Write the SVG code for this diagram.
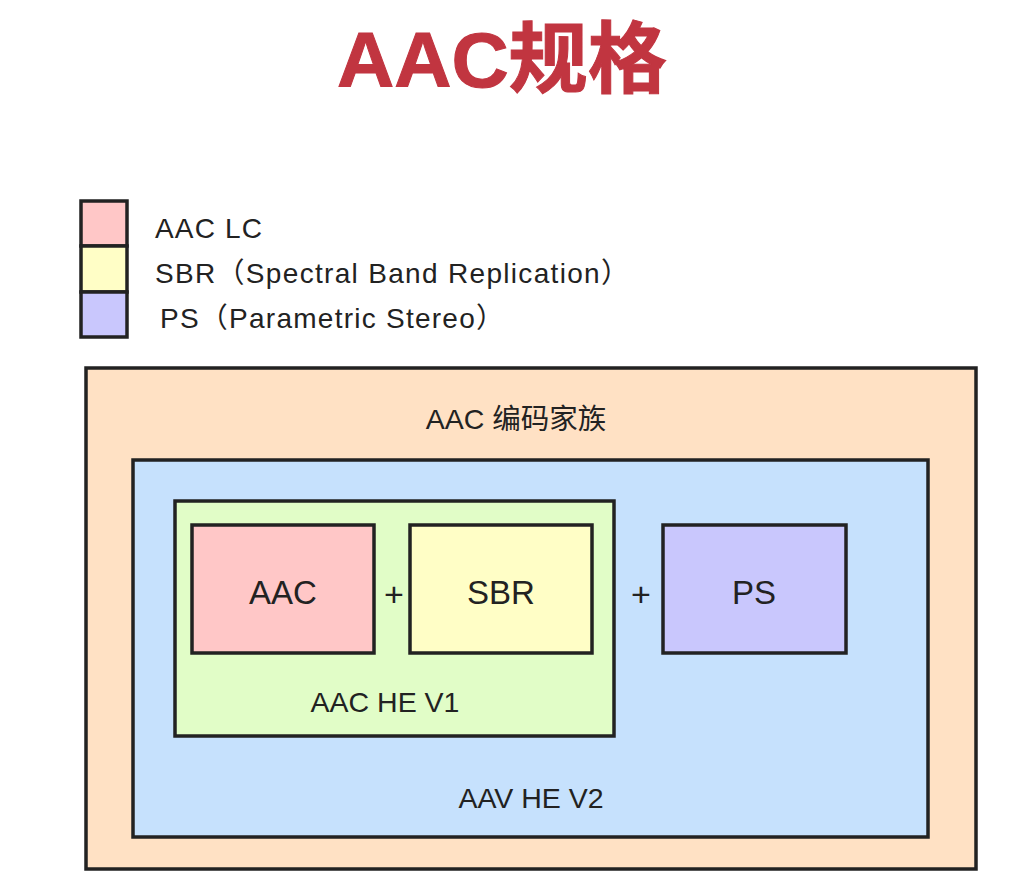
<svg xmlns="http://www.w3.org/2000/svg" width="1028" height="886" viewBox="0 0 1028 886">
<style>
.t{font-family:"Liberation Sans","Noto Sans CJK SC",sans-serif;fill:#222;}
.box{stroke:#222;stroke-width:3.5;}
.lg{font-size:28px;}
.lbl{font-size:28.5px;text-anchor:middle;}
.big{font-size:33px;text-anchor:middle;}
.plus{font-size:34px;text-anchor:middle;}
</style>
<rect width="1028" height="886" fill="#ffffff"/>
<text x="502" y="87" text-anchor="middle" font-family="'Liberation Sans','Noto Sans CJK SC',sans-serif" font-weight="bold" font-size="78" fill="#C13540" stroke="#C13540" stroke-width="1" textLength="330" lengthAdjust="spacingAndGlyphs">AAC规格</text>

<g id="legend">
  <rect x="81" y="201" width="46" height="45" fill="#FFC7C7" class="box"/>
  <rect x="81" y="246" width="46" height="46" fill="#FFFEC6" class="box"/>
  <rect x="81" y="292" width="46" height="45" fill="#C9C7FD" class="box"/>
  <text class="t lg" x="155" y="238" textLength="107" lengthAdjust="spacing">AAC LC</text>
  <text class="t lg" x="155" y="283" textLength="474" lengthAdjust="spacing">SBR（Spectral Band Replication）</text>
  <text class="t lg" x="160" y="328" textLength="344" lengthAdjust="spacing">PS（Parametric Stereo）</text>
</g>

<g id="family">
  <rect x="86" y="368" width="890" height="501" fill="#FFE1C4" class="box"/>
  <text class="t lbl" x="516" y="429" font-size="30.5">AAC 编码家族</text>
</g>
<g id="hev2">
  <rect x="133" y="460" width="795" height="377" fill="#C6E1FD" class="box"/>
  <text class="t lbl" x="531" y="808">AAV HE V2</text>
</g>
<g id="hev1">
  <rect x="175" y="501" width="439" height="235" fill="#E1FDC7" class="box"/>
  <text class="t lbl" x="385" y="712">AAC HE V1</text>
</g>
<g id="aac">
  <rect x="192" y="525" width="182" height="128" fill="#FFC7C7" class="box"/>
  <text class="t big" x="283" y="604">AAC</text>
</g>
<g id="sbr">
  <rect x="410" y="525" width="182" height="128" fill="#FFFEC6" class="box"/>
  <text class="t big" x="501" y="604">SBR</text>
</g>
<g id="ps">
  <rect x="663" y="525" width="183" height="128" fill="#C9C7FD" class="box"/>
  <text class="t big" x="754" y="604">PS</text>
</g>
<g id="connectors">
  <text class="t plus" x="394" y="606">+</text>
  <text class="t plus" x="641" y="606">+</text>
</g>
</svg>
